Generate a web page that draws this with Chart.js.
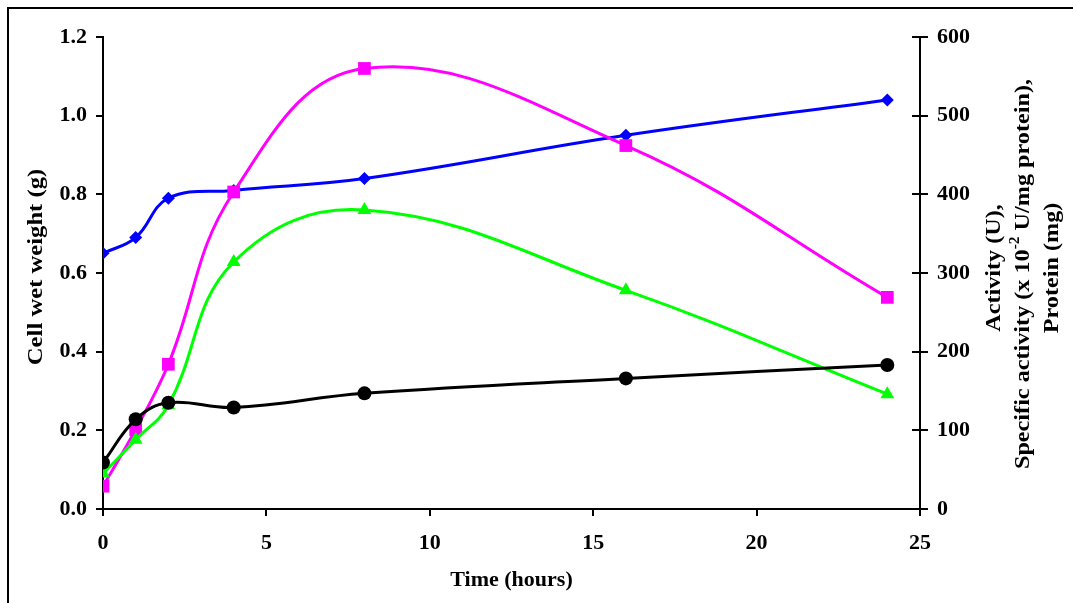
<!DOCTYPE html>
<html>
<head>
<meta charset="utf-8">
<script src="https://cdn.jsdelivr.net/npm/chart.js@4/dist/chart.umd.min.js"></script>
<style>
  html, body { margin: 0; padding: 0; background: #fff; }
  #wrap { width: 1073px; height: 603px; position: relative; }
</style>
</head>
<body>
<div id="wrap"><canvas id="c" width="1073" height="603"></canvas></div>
<script>
// ---- data ----
const hours = [0, 1, 2, 4, 8, 16, 24];
const cellWetWeight = [0.65, 0.69, 0.79, 0.81, 0.84, 0.95, 1.04];      // g, left axis
const activity = [29, 101, 184, 403, 560, 462, 269];                    // U, right axis
const specificActivity = [45, 88, 132, 314, 380, 278, 146];             // x10^-2 U/mg protein
const protein = [59, 114, 135, 129, 147, 166, 183];                     // mg
const leftTicks = [0, 0.2, 0.4, 0.6, 0.8, 1.0, 1.2];
const rightTicks = [0, 100, 200, 300, 400, 500, 600];
const xTicks = [0, 5, 10, 15, 20, 25];

const xTitle = 'Time (hours)';
const leftTitle = 'Cell wet weight (g)';
const rightTitleLines = [
  [{t: 'Activity (U),'}],
  [{t: 'Specific activity (x 10'}, {t: '-2', sup: true}, {t: ' U/mg protein),'}],
  [{t: 'Protein (mg)'}]
];

const FONT = '"Liberation Serif", "Times New Roman", serif';
const pts = arr => hours.map((h, i) => ({x: h, y: arr[i]}));

function drawVertical(ctx, segs, x, cy, stretch) {
  const base = 'bold 22px ' + FONT;
  const sup = 'bold 14px ' + FONT;
  let total = 0;
  segs.forEach(s => { ctx.font = s.sup ? sup : base; total += ctx.measureText(s.t).width; });
  ctx.save();
  ctx.translate(x, cy);
  ctx.rotate(-Math.PI / 2);
  ctx.scale(stretch, 1);
  let px = -total / 2;
  segs.forEach(s => {
    ctx.font = s.sup ? sup : base;
    ctx.fillText(s.t, px, s.sup ? -8 : 0);
    px += ctx.measureText(s.t).width;
  });
  ctx.restore();
}

const framePlugin = {
  id: 'frame',
  afterDraw(chart) {
    const ctx = chart.ctx;
    ctx.save();
    // outer frame (only left/top visible in reference)
    ctx.strokeStyle = '#000';
    ctx.lineWidth = 2;
    ctx.strokeRect(8, 8, 1200, 800);
    // inner half of the crossing ticks on the right axis
    const yr = chart.scales.yR;
    ctx.beginPath();
    rightTicks.forEach(v => {
      const y = Math.round(yr.getPixelForValue(v));
      ctx.moveTo(yr.left - 8, y);
      ctx.lineTo(yr.left, y);
    });
    ctx.stroke();
    // axis titles (vertical)
    ctx.fillStyle = '#000';
    ctx.textBaseline = 'middle';
    ctx.textAlign = 'left';
    drawVertical(ctx, [{t: leftTitle}], 36, 267, 1.12);
    const xs = [994, 1023, 1052];
    const cys = [268, 274, 268];
    rightTitleLines.forEach((segs, li) => drawVertical(ctx, segs, xs[li], cys[li], 1.1));
    ctx.restore();
  }
};

const tickFont = {family: FONT, size: 22, weight: 'bold'};

new Chart(document.getElementById('c'), {
  type: 'line',
  data: {
    datasets: [
      {label: 'Protein (mg)', data: pts(protein), yAxisID: 'yR',
       borderColor: '#000000', backgroundColor: '#000000', pointStyle: 'circle', pointRadius: 7},
      {label: 'Specific activity', data: pts(specificActivity), yAxisID: 'yR',
       borderColor: '#00FF00', backgroundColor: '#00FF00', pointStyle: 'triangle', pointRadius: 8},
      {label: 'Activity (U)', data: pts(activity), yAxisID: 'yR',
       borderColor: '#FF00FF', backgroundColor: '#FF00FF', pointStyle: 'rect', pointRadius: 9},
      {label: 'Cell wet weight (g)', data: pts(cellWetWeight), yAxisID: 'yL',
       borderColor: '#0000FF', backgroundColor: '#0000FF', pointStyle: 'rectRot', pointRadius: 6.5}
    ]
  },
  options: {
    responsive: false,
    animation: false,
    layout: {padding: {top: 37, left: 0, right: 0, bottom: 0}},
    elements: {
      line: {borderWidth: 3, tension: 0.4, fill: false},
      point: {borderWidth: 0, hoverRadius: 7}
    },
    plugins: {legend: {display: false}, tooltip: {enabled: false}},
    scales: {
      x: {
        type: 'linear', min: 0, max: 25,
        afterFit: s => { s.height = 94; },
        afterBuildTicks: s => { s.ticks = xTicks.map(v => ({value: v})); },
        grid: {drawOnChartArea: false, drawTicks: true, tickLength: 7, color: '#000', lineWidth: 2},
        border: {color: '#000', width: 2},
        ticks: {color: '#000', font: tickFont, padding: 14, maxRotation: 0},
        title: {display: true, text: xTitle, color: '#000', font: tickFont, padding: {top: 0, bottom: 9}}
      },
      yL: {
        type: 'linear', position: 'left', min: 0, max: 1.2,
        afterFit: s => { s.width = 103; },
        afterBuildTicks: s => { s.ticks = leftTicks.map(v => ({value: v})); },
        grid: {drawOnChartArea: false, drawTicks: true, tickLength: 7, color: '#000', lineWidth: 2},
        border: {color: '#000', width: 2},
        ticks: {color: '#000', font: tickFont, padding: 9, callback: v => v.toFixed(1)}
      },
      yR: {
        type: 'linear', position: 'right', min: 0, max: 600,
        afterFit: s => { s.width = 153; },
        afterBuildTicks: s => { s.ticks = rightTicks.map(v => ({value: v})); },
        grid: {drawOnChartArea: false, drawTicks: true, tickLength: 8, color: '#000', lineWidth: 2},
        border: {color: '#000', width: 2},
        ticks: {color: '#000', font: tickFont, padding: 9}
      }
    }
  },
  plugins: [framePlugin]
});
</script>
</body>
</html>
